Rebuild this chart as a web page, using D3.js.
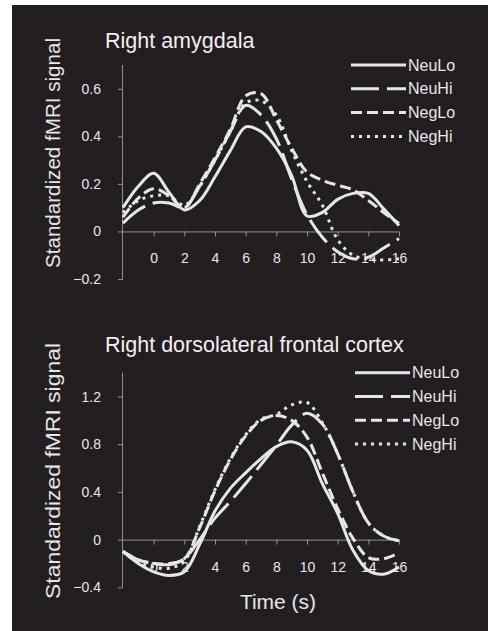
<!DOCTYPE html>
<html>
<head>
<meta charset="utf-8">
<script src="https://cdn.jsdelivr.net/npm/d3@7"></script>
<style>
  html, body { margin: 0; padding: 0; background: #ffffff; }
  svg { display: block; font-family: "Liberation Sans", Arial, Helvetica, sans-serif; }
</style>
</head>
<body>
<svg id="chart" width="488" height="631"></svg>
<script>
// Time points (s) of the event-related response
const times = [-2, -1, 0, 1, 2, 3, 4, 5, 6, 7, 8, 9, 10, 11, 12, 13, 14, 15, 16];
const seriesNames = ["NeuLo", "NeuHi", "NegLo", "NegHi"];

// Right amygdala
const amygNeuLo = [0.10, 0.19, 0.245, 0.165, 0.09, 0.13, 0.23, 0.34, 0.44, 0.42, 0.35, 0.235, 0.065, 0.08, 0.135, 0.16, 0.16, 0.095, 0.025];
const amygNeuHi = [0.035, 0.09, 0.12, 0.12, 0.10, 0.19, 0.30, 0.42, 0.53, 0.49, 0.39, 0.22, 0.07, -0.024, -0.085, -0.115, -0.108, -0.07, -0.03];
const amygNegLo = [0.06, 0.14, 0.18, 0.15, 0.10, 0.20, 0.31, 0.43, 0.57, 0.58, 0.47, 0.35, 0.25, 0.215, 0.194, 0.175, 0.13, 0.08, 0.034];
const amygNegHi = [0.08, 0.13, 0.15, 0.15, 0.11, 0.19, 0.30, 0.42, 0.54, 0.55, 0.49, 0.34, 0.21, 0.11, -0.035, -0.10, -0.115, -0.12, -0.115];

// Right dorsolateral frontal cortex
const dlfcNeuLo = [-0.10, -0.20, -0.27, -0.30, -0.27, -0.04, 0.24, 0.43, 0.56, 0.68, 0.78, 0.82, 0.75, 0.47, 0.22, -0.09, -0.26, -0.29, -0.23];
const dlfcNeuHi = [-0.10, -0.17, -0.20, -0.21, -0.16, 0.00, 0.18, 0.32, 0.47, 0.63, 0.79, 0.96, 1.06, 0.97, 0.72, 0.40, 0.14, 0.03, -0.01];
const dlfcNegLo = [-0.10, -0.17, -0.20, -0.20, -0.16, 0.10, 0.41, 0.67, 0.87, 1.00, 1.04, 1.00, 0.86, 0.56, 0.26, 0.01, -0.15, -0.16, -0.11];
const dlfcNegHi = [-0.10, -0.19, -0.23, -0.24, -0.18, 0.11, 0.42, 0.68, 0.88, 1.01, 1.05, 1.13, 1.15, 0.98, 0.72, 0.40, 0.14, 0.03, -0.01];

// Axis ticks
const xTickValues = [0, 2, 4, 6, 8, 10, 12, 14, 16];
const amygYTicks = [-0.2, 0, 0.2, 0.4, 0.6];
const dlfcYTicks = [-0.4, 0, 0.4, 0.8, 1.2];

const titles = ["Right amygdala", "Right dorsolateral frontal cortex"];
const yAxisTitle = "Standardized fMRI signal";
const xAxisTitle = "Time (s)";

// Visual encoding of each condition
const dashFor = { NeuLo: null, NeuHi: "28,8", NegLo: "11,5", NegHi: "3,5" };
const ink = "#e6e6e6";
const axisInk = "#8f8f8f";

const svg = d3.select("#chart");

// dark plate
svg.append("rect").attr("x", 12).attr("y", 5).attr("width", 476).attr("height", 626).attr("fill", "#231f20");

const x = d3.scaleLinear().domain([-2, 16]).range([123, 399]);

const panels = [
  { title: titles[0], titleY: 48, yDomain: [-0.2, 0.7], yRange: [279, 65], yTicks: amygYTicks,
    data: [amygNeuLo, amygNeuHi, amygNegLo, amygNegHi], legendX: 351, legendY: 65, labelCenter: 153, labelLen: 230 },
  { title: titles[1], titleY: 352, yDomain: [-0.4, 1.4], yRange: [587.3, 372.7], yTicks: dlfcYTicks,
    data: [dlfcNeuLo, dlfcNeuHi, dlfcNegLo, dlfcNegHi], legendX: 355, legendY: 372.7, labelCenter: 471, labelLen: 256 }
];

const fmt = v => (v === 0 ? "0" : d3.format(".1f")(v));

panels.forEach(p => {
  const y = d3.scaleLinear().domain(p.yDomain).range(p.yRange);
  const g = svg.append("g");

  // title
  g.append("text").attr("x", 105).attr("y", p.titleY)
    .attr("fill", "#f0f0f0").attr("font-size", 21.5).text(p.title);

  // y axis title
  g.append("text")
    .attr("transform", `translate(60,${p.labelCenter}) rotate(-90)`)
    .attr("text-anchor", "middle")
    .attr("fill", ink).attr("font-size", 20.5)
    .attr("textLength", p.labelLen).attr("lengthAdjust", "spacingAndGlyphs")
    .text(yAxisTitle);

  // y axis
  const yAxis = d3.axisLeft(y).tickValues(p.yTicks).tickSize(5).tickPadding(17).tickFormat(fmt);
  const gy = g.append("g").attr("transform", `translate(${x(-2)},0)`).call(yAxis);
  gy.select(".domain").attr("stroke", axisInk).attr("d", `M-0.5,${p.yRange[1]}V${p.yRange[0]}`);
  gy.selectAll(".tick line").attr("stroke", axisInk);
  gy.selectAll(".tick text").attr("fill", ink).attr("font-size", 14).attr("font-family", null);

  // x axis sitting on zero
  const xAxis = d3.axisBottom(x).tickValues(xTickValues).tickSize(5).tickPadding(17).tickFormat(d3.format("d"));
  const gx = g.append("g").attr("transform", `translate(0,${y(0)})`).call(xAxis);
  gx.select(".domain").attr("stroke", axisInk).attr("d", `M${x(-2)},0.5H${x(16)}`);
  gx.selectAll(".tick line").attr("stroke", axisInk);
  gx.selectAll(".tick text").attr("fill", ink).attr("font-size", 14).attr("font-family", null);
  g.selectAll(".domain, .tick line").attr("stroke-width", 1);
  svg.selectAll("g[font-family]").attr("font-family", null);

  // response curves
  const line = d3.line().x((d, i) => x(times[i])).y(d => y(d)).curve(d3.curveCatmullRom.alpha(0.5));
  seriesNames.forEach((name, k) => {
    g.append("path").datum(p.data[k])
      .attr("d", line)
      .attr("fill", "none").attr("stroke", ink).attr("stroke-width", 3)
      .attr("stroke-dasharray", dashFor[name]);
  });

  // legend
  seriesNames.forEach((name, k) => {
    const ly = p.legendY + k * 23.8;
    g.append("line").attr("x1", p.legendX).attr("x2", p.legendX + 55)
      .attr("y1", ly).attr("y2", ly)
      .attr("stroke", ink).attr("stroke-width", 3).attr("stroke-dasharray", dashFor[name]);
    g.append("text").attr("x", p.legendX + 57).attr("y", ly + 5.5)
      .attr("fill", ink).attr("font-size", 16).text(name);
  });
});

// shared x axis title
svg.append("text").attr("x", 278).attr("y", 609).attr("text-anchor", "middle")
  .attr("fill", ink).attr("font-size", 21).text(xAxisTitle);
</script>
</body>
</html>
